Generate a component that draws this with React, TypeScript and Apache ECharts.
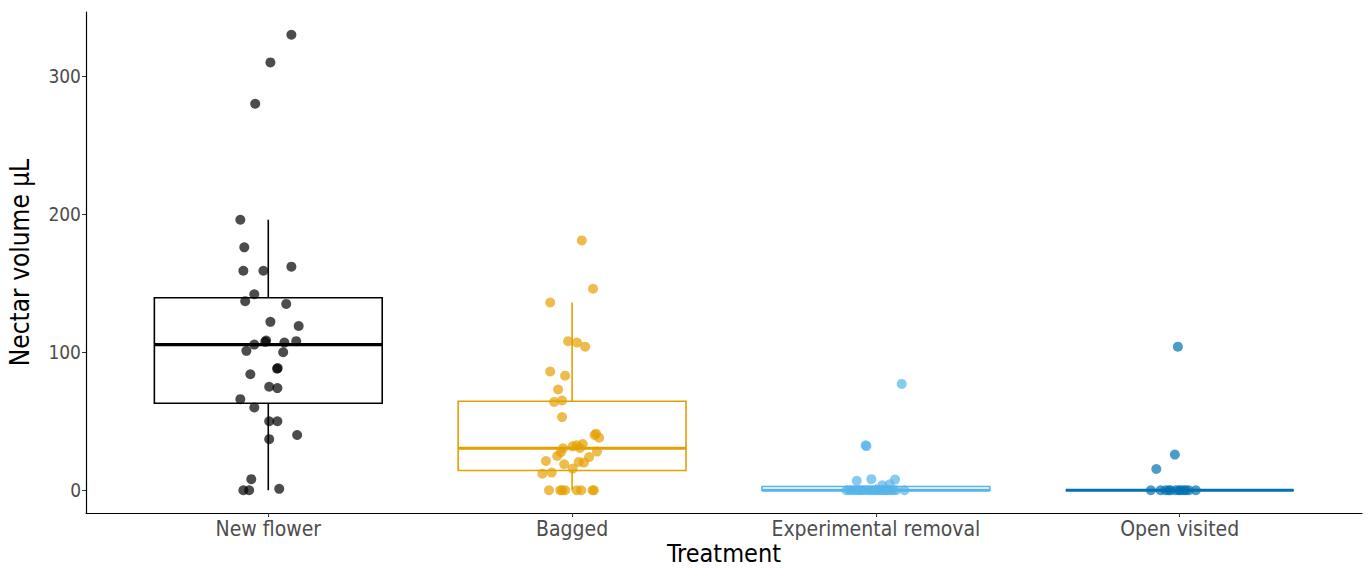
import React, { useEffect, useRef } from "react";
import * as echarts from "echarts";

const categories = ["New flower", "Bagged", "Experimental removal", "Open visited"];
const boxColors = ["#000000", "#E69F00", "#56B4E9", "#0072B2"];
const yTicks = [0, 100, 200, 300];

// Nectar volume values (µL) per treatment
const newFlowerValues = [330, 310, 280, 196, 176, 159, 159, 162, 142, 137, 135, 122, 119, 105.5, 107.5, 108.5, 107, 108, 101, 100, 88, 88.5, 84, 75, 74, 66, 60, 50, 50, 40, 37, 8, 0, 0, 1];
const newFlowerJitter = [0.076, 0.007, -0.043, -0.092, -0.079, -0.082, -0.016, 0.076, -0.046, -0.076, 0.059, 0.007, 0.1, -0.046, -0.01, -0.007, 0.053, 0.092, -0.072, 0.049, 0.029, 0.031, -0.059, 0.003, 0.03, -0.092, -0.046, 0.003, 0.03, 0.095, 0.003, -0.056, -0.082, -0.063, 0.036];

const baggedValues = [181, 146, 136, 108, 107, 104, 86, 83, 73, 64, 65, 53, 41, 40, 38, 33.5, 32.5, 31.8, 30.6, 30.4, 28, 27.5, 24.8, 24, 21.2, 20.5, 20, 18.8, 15.7, 12.8, 12, 0, 0, 0, 0, 0, 0, 0, 0];
const baggedJitter = [0.032, 0.069, -0.072, -0.013, 0.016, 0.043, -0.072, -0.023, -0.046, -0.059, -0.033, -0.033, 0.079, 0.074, 0.089, 0.035, 0.015, 0.002, 0.026, -0.03, 0.082, -0.037, -0.049, 0.056, -0.086, 0.022, 0.039, -0.026, 0.002, -0.067, -0.098, -0.076, -0.039, -0.033, -0.023, 0.015, 0.03, 0.067, 0.072];

const removalValues = [77, 32.5, 32, 6.8, 8, 7.7, 3.6, 4.3, 0, 0, 0, 0, 0, 0, 0, 0, 0, 0, 0, 0, 0, 0, 0, 0, 0, 0, 0, 0, 0, 0];
const removalJitter = [0.085, -0.034, -0.031, -0.063, -0.015, 0.063, 0.021, 0.045, -0.097, -0.088, -0.079, -0.07, -0.061, -0.054, -0.046, -0.038, -0.027, -0.02, -0.011, -0.004, 0.005, 0.011, 0.019, 0.026, 0.034, 0.04, 0.049, 0.057, 0.066, 0.094];

const openValues = [104, 25.8, 15.4, 0, 0, 0, 0, 0, 0, 0, 0, 0, 0, 0, 0];
const openJitter = [-0.006, -0.016, -0.077, -0.095, -0.063, -0.046, -0.036, -0.03, -0.013, -0.003, 0.003, 0.013, 0.02, 0.03, 0.053];

const groupValues = [newFlowerValues, baggedValues, removalValues, openValues];
const groupJitter = [newFlowerJitter, baggedJitter, removalJitter, openJitter];

function quantile(sorted: number[], p: number) {
  const h = (sorted.length - 1) * p;
  const lo = Math.floor(h);
  const hi = Math.ceil(h);
  return sorted[lo] + (h - lo) * (sorted[hi] - sorted[lo]);
}

function boxStats(values: number[]) {
  const s = [...values].sort((a, b) => a - b);
  const q1 = quantile(s, 0.25);
  const med = quantile(s, 0.5);
  const q3 = quantile(s, 0.75);
  const iqr = q3 - q1;
  const upper = Math.max(...s.filter((v) => v <= q3 + 1.5 * iqr));
  const lower = Math.min(...s.filter((v) => v >= q1 - 1.5 * iqr));
  return [lower, q1, med, q3, upper];
}

const FONT = "DejaVu Sans Condensed";

export default function App() {
  const ref = useRef<HTMLDivElement>(null);
  useEffect(() => {
    document.body.style.margin = "0";
    document.body.style.overflow = "hidden";
    const chart = echarts.init(ref.current!, null, { renderer: "svg" });
    const boxData = groupValues.map((vals, i) => [i + 1, ...boxStats(vals)]);
    const scatterSeries = groupValues.map((vals, i) => ({
      type: "scatter",
      name: categories[i],
      data: vals.map((v, j) => [i + 1 + groupJitter[i][j], v]),
      symbolSize: 10,
      itemStyle: { color: boxColors[i], opacity: 0.7 },
      z: 5,
    }));
    chart.setOption({
      animation: false,
      textStyle: { fontFamily: FONT },
      grid: { left: 86, right: 6, top: 12, bottom: 56, containLabel: false, outerBoundsMode: "none" },
      xAxis: {
        type: "value",
        min: 0.4,
        max: 4.6,
        splitLine: { show: false },
        axisLine: { show: true, onZero: false, lineStyle: { color: "#000", width: 1.2 } },
        axisTick: { show: true, customValues: [1, 2, 3, 4], length: 4, lineStyle: { color: "#333" } },
        axisLabel: {
          customValues: [1, 2, 3, 4],
          formatter: (v: number) => categories[Math.round(v) - 1],
          color: "#4D4D4D",
          fontSize: 21,
          fontFamily: FONT,
          margin: 5,
        },
        name: "Treatment",
        nameLocation: "middle",
        nameGap: 28,
        nameMoveOverlap: false,
        nameTextStyle: { fontSize: 25, lineHeight: 25, color: "#000", fontFamily: FONT },
      },
      yAxis: {
        type: "value",
        min: -16.5,
        max: 346.5,
        splitLine: { show: false },
        axisLine: { show: true, onZero: false, lineStyle: { color: "#000", width: 1.2 } },
        axisTick: { show: true, customValues: yTicks, length: 4, lineStyle: { color: "#333" } },
        axisLabel: {
          customValues: yTicks,
          color: "#4D4D4D",
          fontSize: 19,
          fontFamily: FONT,
          margin: 5,
        },
        name: "Nectar volume μL",
        nameLocation: "middle",
        nameGap: 53,
        nameMoveOverlap: false,
        nameRotate: 90,
        nameTextStyle: { fontSize: 26, color: "#000", fontFamily: FONT },
      },
      series: [
        {
          type: "custom",
          data: boxData,
          encode: { x: 0, y: [1, 2, 3, 4, 5] },
          z: 2,
          renderItem: (params: any, api: any) => {
            const x = api.value(0);
            const lo = api.value(1);
            const q1 = api.value(2);
            const med = api.value(3);
            const q3 = api.value(4);
            const hi = api.value(5);
            const color = boxColors[params.dataIndex];
            const half = 0.375;
            const tl = api.coord([x - half, q3]);
            const br = api.coord([x + half, q1]);
            const c = (v: number) => api.coord([x, v]);
            const m1 = api.coord([x - half, med]);
            const m2 = api.coord([x + half, med]);
            return {
              type: "group",
              children: [
                { type: "line", shape: { x1: c(hi)[0], y1: c(hi)[1], x2: c(q3)[0], y2: c(q3)[1] }, style: { stroke: color, lineWidth: 1.6 } },
                { type: "line", shape: { x1: c(lo)[0], y1: c(lo)[1], x2: c(q1)[0], y2: c(q1)[1] }, style: { stroke: color, lineWidth: 1.6 } },
                { type: "rect", shape: { x: tl[0], y: tl[1], width: br[0] - tl[0], height: br[1] - tl[1] }, style: { fill: "#fff", stroke: color, lineWidth: 1.6 } },
                { type: "line", shape: { x1: m1[0], y1: m1[1], x2: m2[0], y2: m2[1] }, style: { stroke: color, lineWidth: 3.2 } },
              ],
            };
          },
        },
        ...scatterSeries,
      ],
    });
    return () => chart.dispose();
  }, []);
  return <div ref={ref} style={{ width: 1368, height: 569 }} />;
}
